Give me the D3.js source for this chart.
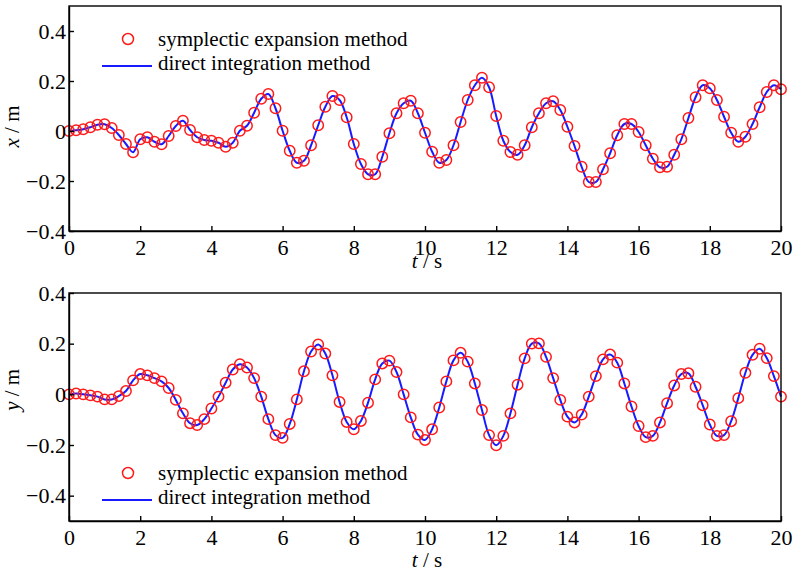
<!DOCTYPE html>
<meta charset="utf-8">
<style>

body {
  margin: 0;
  background: #fff;
}

svg text {
  font-family: "Liberation Serif", "Times New Roman", Times, "Nimbus Roman", "DejaVu Serif", serif;
  fill: #000;
}

.tick text {
  font-size: 22px;
}

.tick line,
.domain {
  stroke: #000;
  stroke-width: 1.4px;
}

.frame {
  fill: none;
  stroke: #000;
  stroke-width: 1.4px;
}

.curve {
  fill: none;
  stroke: #1a1aff;
  stroke-width: 2px;
}

.dot {
  fill: none;
  stroke: #ff1a1a;
  stroke-width: 1.5px;
}

.legend,
.label {
  font-size: 21px;
}

</style>
<svg width="794" height="573"></svg>
<script src="https://d3js.org/d3.v7.min.js"></script>
<script>

// sample step of both series, s
var step = 0.2;

// x displacement, m (t = 0, 0.2, ... 20 s)
var xDisp = [
  0.000, 0.003, 0.007, 0.015, 0.025, 0.027, 0.012, -0.016, -0.052, -0.085,
  -0.033, -0.025, -0.043, -0.053, -0.020, 0.020, 0.041, 0.004, -0.025, -0.036,
  -0.039, -0.047, -0.063, -0.047, 0.001, 0.021, 0.073, 0.129, 0.148, 0.091,
  0.001, -0.079, -0.127, -0.119, -0.057, 0.023, 0.097, 0.140, 0.124, 0.055,
  -0.052, -0.132, -0.173, -0.173, -0.103, -0.009, 0.071, 0.111, 0.121, 0.071,
  -0.007, -0.083, -0.127, -0.116, -0.057, 0.036, 0.124, 0.183, 0.213, 0.175,
  0.060, -0.039, -0.084, -0.095, -0.057, 0.015, 0.071, 0.111, 0.119, 0.084,
  0.017, -0.060, -0.143, -0.204, -0.204, -0.153, -0.089, -0.017, 0.028, 0.028,
  -0.004, -0.057, -0.111, -0.145, -0.143, -0.095, -0.033, 0.052, 0.135, 0.183,
  0.171, 0.124, 0.057, -0.007, -0.043, -0.023, 0.028, 0.095, 0.156, 0.183,
  0.167
];

// y displacement, m
var yDisp = [
  0.000, 0.003, 0.000, -0.004, -0.009, -0.020, -0.020, -0.007, 0.013, 0.055,
  0.080, 0.075, 0.064, 0.051, 0.025, -0.022, -0.075, -0.114, -0.121, -0.098,
  -0.056, -0.009, 0.046, 0.098, 0.119, 0.106, 0.064, -0.009, -0.098, -0.161,
  -0.172, -0.117, -0.020, 0.091, 0.169, 0.197, 0.161, 0.075, -0.030, -0.109,
  -0.138, -0.105, -0.033, 0.059, 0.122, 0.133, 0.088, 0.000, -0.091, -0.159,
  -0.180, -0.138, -0.052, 0.051, 0.134, 0.164, 0.129, 0.043, -0.062, -0.161,
  -0.201, -0.164, -0.075, 0.038, 0.142, 0.200, 0.201, 0.148, 0.064, -0.022,
  -0.088, -0.111, -0.080, -0.009, 0.072, 0.138, 0.157, 0.125, 0.043, -0.048,
  -0.125, -0.169, -0.164, -0.111, -0.035, 0.035, 0.080, 0.083, 0.030, -0.043,
  -0.119, -0.164, -0.161, -0.106, -0.015, 0.085, 0.156, 0.180, 0.143, 0.072,
  -0.009
];

var tTicks = [0, 2, 4, 6, 8, 10, 12, 14, 16, 18, 20];
var vTicks = [-0.4, -0.2, 0, 0.2, 0.4];
var seriesNames = ["symplectic expansion method", "direct integration method"];

var serif = "'Liberation Serif', 'Times New Roman', Times, 'Nimbus Roman', 'DejaVu Serif', serif";

var svg = d3.select("svg");

var x = d3.scaleLinear().domain([0, 20]).range([69, 781]);

var panels = [
  {values: xDisp, domain: [-0.4, 0.5], top: 6, bottom: 231, name: "x", legendY: 39, tLabelY: 268},
  {values: yDisp, domain: [-0.5, 0.4], top: 293, bottom: 521, name: "y", legendY: 473, tLabelY: 567}
];

var fmt = function(d) { return d === 0 ? "0" : d3.format(".1f")(d); };

panels.forEach(function(p) {
  var y = d3.scaleLinear().domain(p.domain).range([p.bottom, p.top]);
  var g = svg.append("g").attr("font-family", serif);

  var data = p.values.map(function(v, i) { return {t: i * step, v: v}; });

  var line = d3.line()
      .x(function(d) { return x(d.t); })
      .y(function(d) { return y(d.v); })
      .curve(d3.curveCatmullRom.alpha(0.5));

  g.append("path")
      .datum(data)
      .attr("class", "curve")
      .attr("d", line);

  g.selectAll(".dot")
    .data(data)
    .enter().append("circle")
      .attr("class", "dot")
      .attr("cx", function(d) { return x(d.t); })
      .attr("cy", function(d) { return y(d.v); })
      .attr("r", 5.2);

  g.append("g")
      .attr("transform", "translate(0," + p.bottom + ")")
      .call(d3.axisBottom(x).tickValues(tTicks).tickSizeInner(-5).tickSizeOuter(0).tickPadding(8))
      .attr("font-family", serif);

  g.append("g")
      .attr("transform", "translate(" + x(0) + ",0)")
      .call(d3.axisLeft(y).tickValues(vTicks).tickFormat(fmt).tickSizeInner(-5).tickSizeOuter(0).tickPadding(3))
      .attr("font-family", serif);

  g.append("rect")
      .attr("class", "frame")
      .attr("x", x(0))
      .attr("y", p.top)
      .attr("width", x(20) - x(0))
      .attr("height", p.bottom - p.top);

  // axis titles
  var yl = g.append("text")
      .attr("class", "label")
      .attr("text-anchor", "middle")
      .attr("transform", "translate(19," + (y(0) - 4.5) + ") rotate(-90)");
  yl.append("tspan").style("font-style", "italic").text(p.name);
  yl.append("tspan").text(" / m");

  var tl = g.append("text")
      .attr("class", "label")
      .attr("text-anchor", "middle")
      .attr("x", 427)
      .attr("y", p.tLabelY);
  tl.append("tspan").style("font-style", "italic").text("t");
  tl.append("tspan").text(" / s");

  // legend
  g.append("circle")
      .attr("class", "dot")
      .attr("cx", 128)
      .attr("cy", p.legendY)
      .attr("r", 5.5);
  g.append("text")
      .attr("class", "legend")
      .attr("x", 158)
      .attr("y", p.legendY + 7)
      .text(seriesNames[0]);
  g.append("line")
      .attr("class", "curve")
      .attr("x1", 102)
      .attr("x2", 152)
      .attr("y1", p.legendY + 27)
      .attr("y2", p.legendY + 27);
  g.append("text")
      .attr("class", "legend")
      .attr("x", 158)
      .attr("y", p.legendY + 31)
      .text(seriesNames[1]);
});

</script>
